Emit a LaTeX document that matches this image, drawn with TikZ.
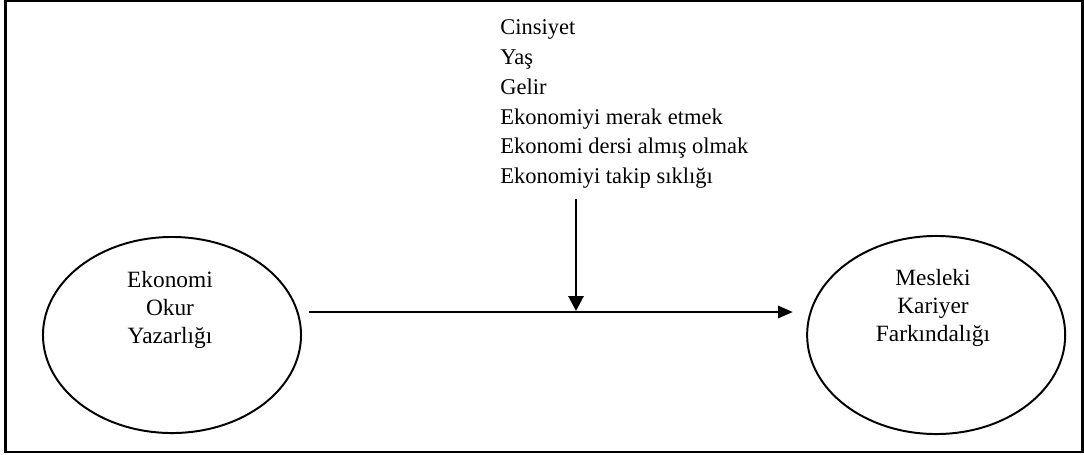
\documentclass[tikz,border=0pt]{standalone}
\usepackage{fontspec}
\setmainfont{Liberation Serif}
\usetikzlibrary{shapes.geometric, arrows.meta, positioning}
\tikzset{
    oval/.style={draw, ellipse, line width=1.4pt, minimum width=6.45cm, minimum height=4.9cm, inner sep=0pt},
    ovaltext/.style={align=center, inner sep=0pt, font=\fontsize{16.6}{19.8}\selectfont},
    flow/.style={-{Triangle[length=0.375cm, width=#1]}, line width=2.1pt},
    flow/.default=0.3cm
}

\begin{document}
\begin{tikzpicture}[x=0.025cm, y=-0.025cm]
        \useasboundingbox (0,0) rectangle (1084,454);
        \draw[line width=1.8pt] (5.5,1.2) rectangle (1082.5,452);

        \node (eok) [oval] at (172,335) {};
        \node (mkf) [oval, minimum height=4.95cm, right=12.6cm of eok] {};
        \node (eoktext) [ovaltext, anchor=north] at (170,271) {Ekonomi\\Okur\\Yazarlığı};
        \node (mkftext) [ovaltext, anchor=north] at (933,269) {Mesleki\\Kariyer\\Farkındalığı};
        \node (factors) [align=left, anchor=north west, inner sep=0pt, font=\fontsize{16}{21.3}\selectfont] at (500,19)
            {Cinsiyet\\Yaş\\Gelir\\Ekonomiyi merak etmek\\Ekonomi dersi almış olmak\\Ekonomiyi takip sıklığı};

        \coordinate (hstart) at (309,312);
        \coordinate (hend) at (793,312);
        \coordinate (vtop) at (576,199);
        \coordinate (junction) at (576,311);

        \draw[flow] (hstart) -- (hend);
        \draw[flow=0.375cm] (vtop) -- (junction);
    \end{tikzpicture}
\end{document}
